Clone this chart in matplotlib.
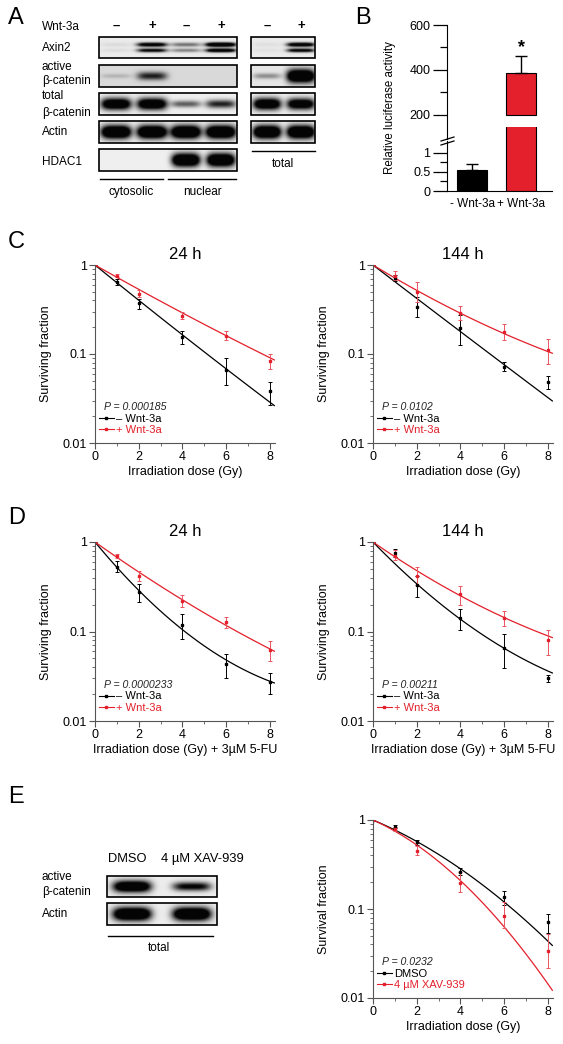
import numpy as np
import matplotlib
matplotlib.use("Agg")
import matplotlib.pyplot as plt
from matplotlib.lines import Line2D
from matplotlib.patches import Rectangle

plt.rcParams['font.family'] = ['Liberation Sans', 'DejaVu Sans']

W, H = 563, 1044
RED = '#e3202b'
RED_ERR = '#ea5560'
AXC = '#555555'

# ---------------- data ----------------
# panel A blots (band density per lane, 0..1)
lanes_a = [116, 152, 186, 221]
lanes_tot = [267, 301]
axin2 = [0.04, 0.75, 0.3, 1.0]
axin2_tot = [0.03, 0.8]
act_bcat = [0.1, 0.5, 0.0, 0.0]
act_bcat_tot = [0.22, 1.0]
tot_bcat = [0.85, 0.85, 0.35, 0.5]
tot_bcat_tot = [0.85, 0.8]
actin = [1.0, 1.0, 1.0, 1.0]
actin_tot = [1.0, 1.0]
hdac1 = [0.0, 0.0, 1.0, 1.0]

# panel E blot
lanes_e = [132, 192]
e_act_bcat = [0.9, 0.6]
e_actin = [1.0, 1.0]

# panel B luciferase
b_groups = ['- Wnt-3a', '+ Wnt-3a']
b_mean = [0.55, 385]
b_err = [0.17, 75]

# survival data
doses = [0, 1, 2, 4, 6, 8]

c24_neg = [1, 0.65, 0.37, 0.157, 0.066, 0.038]
c24_neg_lo = [1, 0.60, 0.32, 0.13, 0.045, 0.027]
c24_neg_hi = [1, 0.70, 0.42, 0.18, 0.09, 0.049]
c24_pos = [1, 0.76, 0.47, 0.27, 0.16, 0.084]
c24_pos_lo = [1, 0.73, 0.44, 0.25, 0.145, 0.068]
c24_pos_hi = [1, 0.79, 0.52, 0.30, 0.18, 0.10]
c24_fit = [(0.46, -0.002), (0.32, -0.0025)]

c144_neg = [1, 0.72, 0.34, 0.198, 0.072, 0.048]
c144_neg_lo = [1, 0.66, 0.26, 0.127, 0.064, 0.040]
c144_neg_hi = [1, 0.78, 0.44, 0.275, 0.082, 0.057]
c144_pos = [1, 0.76, 0.50, 0.287, 0.176, 0.11]
c144_pos_lo = [1, 0.67, 0.385, 0.24, 0.145, 0.078]
c144_pos_hi = [1, 0.86, 0.64, 0.35, 0.215, 0.146]
c144_fit = [(0.433, -0.0005), (0.344, -0.008)]

d24_neg = [1, 0.53, 0.275, 0.118, 0.043, 0.027]
d24_neg_lo = [1, 0.457, 0.212, 0.083, 0.030, 0.020]
d24_neg_hi = [1, 0.62, 0.338, 0.157, 0.056, 0.034]
d24_pos = [1, 0.70, 0.42, 0.22, 0.127, 0.062]
d24_pos_lo = [1, 0.67, 0.37, 0.187, 0.109, 0.047]
d24_pos_hi = [1, 0.73, 0.47, 0.256, 0.147, 0.078]
d24_fit = [(0.68, -0.029), (0.40, -0.007)]

d144_neg = [1, 0.75, 0.33, 0.14, 0.065, 0.030]
d144_neg_lo = [1, 0.68, 0.24, 0.103, 0.039, 0.027]
d144_neg_hi = [1, 0.83, 0.42, 0.18, 0.094, 0.033]
d144_pos = [1, 0.70, 0.42, 0.26, 0.143, 0.08]
d144_pos_lo = [1, 0.63, 0.33, 0.20, 0.115, 0.055]
d144_pos_hi = [1, 0.82, 0.52, 0.32, 0.17, 0.105]
d144_fit = [(0.579, -0.0205), (0.39, -0.011)]

e_dmso = [1, 0.84, 0.56, 0.263, 0.135, 0.071]
e_dmso_lo = [1, 0.81, 0.53, 0.24, 0.11, 0.054]
e_dmso_hi = [1, 0.88, 0.59, 0.286, 0.16, 0.088]
e_xav = [1, 0.79, 0.45, 0.194, 0.083, 0.034]
e_xav_lo = [1, 0.75, 0.40, 0.154, 0.061, 0.022]
e_xav_hi = [1, 0.83, 0.51, 0.26, 0.119, 0.053]
e_fit = [(0.24, 0.019), (0.2545, 0.0345)]

wnt_labels = ['\u2013 Wnt-3a', '+ Wnt-3a']
xav_labels = ['DMSO', '4 \u00b5M XAV-939']

fig = plt.figure(figsize=(W / 100, H / 100), dpi=100)


def px_rect(l, t, r, b):
    return [l / W, 1 - b / H, (r - l) / W, (b - t) / H]


# overlay axes in pixel coordinates for blots and labels
ov = fig.add_axes([0, 0, 1, 1], zorder=5)
ov.patch.set_alpha(0)
ov.axis('off')


def blot(l, t, r, b, centers, dens, bg, hw=15, double=False):
    xs = np.linspace(l, r, int((r - l) * 2))
    ys = np.linspace(t, b, int((b - t) * 2))
    X, Y = np.meshgrid(xs, ys)
    h = b - t
    dark = np.zeros(X.shape)
    for c, k in zip(centers, dens):
        prof_x = np.exp(-((X - c) / hw) ** 4)
        if double:
            prof_y = (np.exp(-((Y - (t + 0.36 * h)) / (0.10 * h)) ** 2)
                      + 0.85 * np.exp(-((Y - (t + 0.64 * h)) / (0.09 * h)) ** 2))
        else:
            sy = h * (0.08 + 0.22 * k)
            prof_y = np.exp(-((Y - (t + 0.5 * h)) / sy) ** 2)
        dark += 1.8 * k * prof_x * prof_y
    img = bg - (bg - 0.02) * np.clip(dark, 0, 1)
    ov.imshow(img, extent=(l, r, b, t), cmap='gray', vmin=0, vmax=1,
              aspect='auto', interpolation='bilinear')
    ov.add_patch(Rectangle((l, t), r - l, b - t, fill=False, lw=1.2, ec='k'))


# ---------------- panel A ----------------
fs_lab = 8.5
ov.text(8, 18, 'A', fontsize=17, va='center', ha='left')
ov.text(42, 27, 'Wnt-3a', fontsize=fs_lab, va='center')
for x, s in zip(lanes_a + lanes_tot, ['\u2013', '+', '\u2013', '+', '\u2013', '+']):
    ov.text(x, 26, s, fontsize=9.5, fontweight='bold', ha='center', va='center')

rows_y = [(37, 58), (65, 87), (93, 115), (121, 143)]
left_data = [axin2, act_bcat, tot_bcat, actin]
tot_data = [axin2_tot, act_bcat_tot, tot_bcat_tot, actin_tot]
bgs = [0.92, 0.85, 0.94, 0.94]
bgs_tot = [0.92, 0.9, 0.94, 0.94]
for i, (t, b) in enumerate(rows_y):
    blot(99, t, 237, b, lanes_a, left_data[i], bgs[i], hw=15, double=(i == 0))
    blot(251, t, 315, b, lanes_tot, tot_data[i], bgs_tot[i], hw=14, double=(i == 0))
blot(99, 149, 237, 171, lanes_a, hdac1, 0.94, hw=14)

ov.text(42, 48, 'Axin2', fontsize=fs_lab, va='center')
ov.text(42, 67, 'active', fontsize=fs_lab, va='center')
ov.text(42, 81, '\u03b2-catenin', fontsize=fs_lab, va='center')
ov.text(42, 96, 'total', fontsize=fs_lab, va='center')
ov.text(42, 113, '\u03b2-catenin', fontsize=fs_lab, va='center')
ov.text(42, 132, 'Actin', fontsize=fs_lab, va='center')
ov.text(42, 162, 'HDAC1', fontsize=fs_lab, va='center')
ov.plot([100, 163], [179, 179], color='k', lw=1)
ov.plot([168, 236], [179, 179], color='k', lw=1)
ov.text(131, 192, 'cytosolic', fontsize=fs_lab, ha='center', va='center')
ov.text(202, 192, 'nuclear', fontsize=fs_lab, ha='center', va='center')
ov.plot([252, 315], [151, 151], color='k', lw=1)
ov.text(283, 164, 'total', fontsize=fs_lab, ha='center', va='center')

# ---------------- panel E blot ----------------
ov.text(8, 797, 'E', fontsize=17, va='center', ha='left')
ov.text(lanes_e[0] - 5, 859, xav_labels[0], fontsize=9.3, ha='center', va='center')
ov.text(lanes_e[1] + 10, 859, xav_labels[1], fontsize=9.3, ha='center', va='center')
blot(107, 876, 217, 897, lanes_e, e_act_bcat, 0.93, hw=19)
blot(107, 903, 217, 925, lanes_e, e_actin, 0.93, hw=19)
ov.text(42, 877, 'active', fontsize=fs_lab, va='center')
ov.text(42, 892, '\u03b2-catenin', fontsize=fs_lab, va='center')
ov.text(42, 914, 'Actin', fontsize=fs_lab, va='center')
ov.plot([108, 213], [936, 936], color='k', lw=1)
ov.text(159, 948, 'total', fontsize=fs_lab, ha='center', va='center')

# ---------------- panel B ----------------
ov.text(355, 18, 'B', fontsize=17, va='center', ha='left')
xpos = [0, 1]
bt = fig.add_axes(px_rect(447, 25, 552, 139))
bb = fig.add_axes(px_rect(447, 127, 552, 191))
for a in (bt, bb):
    a.patch.set_alpha(0)
    a.spines[['top', 'right']].set_visible(False)
    a.set_xlim(-0.51, 1.63)
    a.tick_params(axis='y', which='major', length=10, width=0.9, labelsize=9, pad=2)
    a.tick_params(axis='y', which='minor', length=5, width=0.9)

bt.set_ylim(93, 600)
bt.spines['bottom'].set_visible(False)
bt.set_xticks([])
bt.set_yticks([200, 400, 600])
bt.set_yticks([300, 500], minor=True)
bt.bar(xpos[1], b_mean[1] - 200, bottom=200, width=0.62, color=RED, ec='k', lw=0.8)
bt.errorbar(xpos[1], b_mean[1], yerr=[[0], [b_err[1]]], fmt='none', ecolor='k',
            elinewidth=1, capsize=4, capthick=1)
bt.text(xpos[1], b_mean[1] + b_err[1] + 40, '*', fontsize=13, fontweight='bold',
        ha='center', va='center')

bb.set_ylim(0, 1.68)
bb.spines['left'].set_bounds(0, 1.3)
bb.set_yticks([0, 0.5, 1])
bb.set_yticklabels(['0', '0.5', '1'])
bb.set_yticks([0.25, 0.75], minor=True)
bb.bar(xpos, [b_mean[0], 5], width=0.62, color=['k', RED], ec='k', lw=0.8)
bb.errorbar(xpos[0], b_mean[0], yerr=[[0], [b_err[0]]], fmt='none', ecolor='k',
            elinewidth=1, capsize=4, capthick=1)
bb.set_xticks(xpos)
bb.set_xticklabels(b_groups, fontsize=8.5)
bb.tick_params(axis='x', length=0, pad=5)
# axis break marks
for dy in (0, 4):
    ov.plot([441, 454], [141 + dy, 137 + dy], color='k', lw=0.9)
ov.text(390, 108, 'Relative luciferase activity', fontsize=8.3, rotation=90,
        ha='center', va='center')


# ---------------- survival panels ----------------
def surv(rect, neg, neg_lo, neg_hi, pos, pos_lo, pos_hi, fits, labels,
         ptxt, xlabel, ylabel, title=None):
    ax = fig.add_axes(px_rect(*rect))
    ax.patch.set_alpha(0)
    ax.set_yscale('log')
    ax.set_ylim(0.01, 1)
    ax.set_xlim(0, 8.23)
    for s in ('top', 'right'):
        ax.spines[s].set_visible(False)
    for s in ('left', 'bottom'):
        ax.spines[s].set_color(AXC)
        ax.spines[s].set_linewidth(0.8)
    ax.set_yticks([0.01, 0.1, 1])
    ax.set_yticklabels(['0.01', '0.1', '1'])
    ax.set_xticks([0, 2, 4, 6, 8])
    ax.set_xticks([1, 3, 5, 7], minor=True)
    ax.tick_params(which='major', length=4, width=0.8, color=AXC, labelsize=9, pad=2)
    ax.tick_params(which='minor', length=2, width=0.6, color=AXC)
    ax.yaxis.set_minor_formatter(plt.NullFormatter())

    dd = np.linspace(0, 8.2, 120)
    handles = []
    for vals, lo, hi, (a, b), col, ecol in (
            (neg, neg_lo, neg_hi, fits[0], 'k', 'k'),
            (pos, pos_lo, pos_hi, fits[1], RED, RED_ERR)):
        v = np.array(vals)
        yerr = [v - np.array(lo), np.array(hi) - v]
        ax.plot(dd, np.exp(-(a * dd + b * dd ** 2)), color=col, lw=0.9)
        ax.errorbar(doses, v, yerr=yerr, fmt='s', ms=2.0, color=col, ecolor=ecol,
                    elinewidth=0.7, capsize=1.2, capthick=0.7)
        handles.append(Line2D([], [], color=col, lw=0.8, marker='s', ms=2.0))

    ax.text(0.05, 0.2, ptxt, transform=ax.transAxes, fontsize=7.6, style='italic',
            va='center', ha='left', color='#222222')
    ax.legend(handles, labels, loc='upper left', bbox_to_anchor=(0.02, 0.165),
              frameon=False, fontsize=8, handlelength=1.4, handletextpad=0.15,
              borderpad=0, borderaxespad=0, labelspacing=0.15,
              labelcolor=['k', RED])
    ax.set_xlabel(xlabel, fontsize=9)
    ax.set_ylabel(ylabel, fontsize=9)
    ax.xaxis.set_label_coords(0.5, -0.13)
    ax.yaxis.set_label_coords(-0.24, 0.5)
    if title:
        ax.set_title(title, fontsize=12, pad=4)
    return ax


ov.text(8, 242, 'C', fontsize=17, va='center', ha='left')
surv((95, 265, 275, 443), c24_neg, c24_neg_lo, c24_neg_hi, c24_pos, c24_pos_lo,
     c24_pos_hi, c24_fit, wnt_labels, 'P = 0.000185', 'Irradiation dose (Gy)',
     'Surviving fraction', '24 h')
surv((373, 265, 553, 443), c144_neg, c144_neg_lo, c144_neg_hi, c144_pos, c144_pos_lo,
     c144_pos_hi, c144_fit, wnt_labels, 'P = 0.0102', 'Irradiation dose (Gy)',
     'Surviving fraction', '144 h')

ov.text(8, 518, 'D', fontsize=17, va='center', ha='left')
surv((95, 542, 275, 721), d24_neg, d24_neg_lo, d24_neg_hi, d24_pos, d24_pos_lo,
     d24_pos_hi, d24_fit, wnt_labels, 'P = 0.0000233',
     'Irradiation dose (Gy) + 3\u00b5M 5-FU', 'Surviving fraction', '24 h')
surv((373, 542, 553, 721), d144_neg, d144_neg_lo, d144_neg_hi, d144_pos, d144_pos_lo,
     d144_pos_hi, d144_fit, wnt_labels, 'P = 0.00211',
     'Irradiation dose (Gy) + 3\u00b5M 5-FU', 'Surviving fraction', '144 h')

surv((373, 820, 553, 998), e_dmso, e_dmso_lo, e_dmso_hi, e_xav, e_xav_lo, e_xav_hi,
     e_fit, xav_labels, 'P = 0.0232', 'Irradiation dose (Gy)', 'Survival fraction')

ov.set_xlim(0, W)
ov.set_ylim(H, 0)

fig.savefig('out.png', dpi=100)
